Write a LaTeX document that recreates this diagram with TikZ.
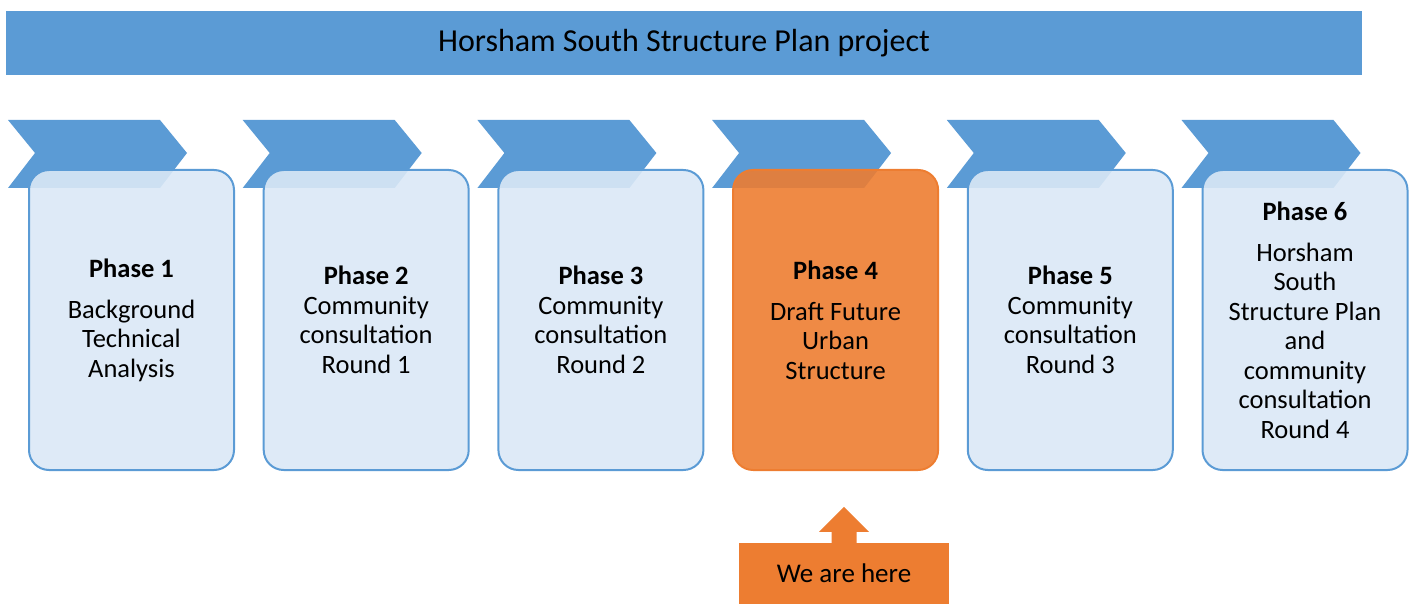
\documentclass[tikz,border=0pt]{standalone}
\usepackage{fontspec}
\setmainfont{Carlito}
\usetikzlibrary{positioning}
\definecolor{barblue}{HTML}{5B9BD5}
\definecolor{boxblue}{HTML}{DAE8F6}
\definecolor{hereorange}{HTML}{ED7D31}
\tikzset{
x=1pt, y=-1pt,
node distance=27.7pt,
chevron/.style={fill=barblue},
banner/.style={fill=barblue, minimum width=1356pt, minimum height=64pt, font=\fontsize{32}{36}\selectfont},
phase/.style={draw=barblue, line width=2pt, fill=boxblue, fill opacity=0.9, text opacity=1, rounded corners=20pt, minimum width=205pt, minimum height=300pt, align=center, font=\fontsize{26.5}{29.5}\selectfont},
current/.style={phase, draw=hereorange, fill=hereorange},
herebox/.style={fill=hereorange, minimum width=210pt, minimum height=61pt, font=\fontsize{27}{30}\selectfont},
}

\begin{document}
\begin{tikzpicture}
    \useasboundingbox (0,0) rectangle (1413,604);
    \node[banner] (title) at (684,43) {Horsham South Structure Plan project};
    % chevrons behind the phase boxes
    \foreach \i in {0,...,5}
        \fill[chevron] (8+234.7*\i,120) -- ++(152,0) -- ++(27,33) -- ++(-27,35) -- ++(-152,0) -- ++(27,-35) -- cycle;
    \node[phase] (p1) at (131.5,320) {\textbf{Phase 1}\\[11.5pt]Background\\Technical\\Analysis};
    \node[phase] (p2) [right=of p1] {\textbf{Phase 2}\\Community\\consultation\\Round 1};
    \node[phase] (p3) [right=of p2] {\textbf{Phase 3}\\Community\\consultation\\Round 2};
    \node[current] (p4) [right=of p3] {\textbf{Phase 4}\\[11.5pt]Draft Future\\Urban\\Structure};
    \node[phase] (p5) [right=of p4] {\textbf{Phase 5}\\Community\\consultation\\Round 3};
    \node[phase] (p6) [right=of p5] {\textbf{Phase 6}\\[11.5pt]Horsham\\South\\Structure Plan\\and\\community\\consultation\\Round 4};
    % we are here
    \node[herebox] (here) at (844,573.5) {We are here};
    \fill[hereorange] ([xshift=-12.5pt]here.north) -- ++(0,-11) -- ++(-12.5,0) -- ++(25,-25) -- ++(25,25) -- ++(-12.5,0) -- ++(0,11) -- cycle;
\end{tikzpicture}
\end{document}
